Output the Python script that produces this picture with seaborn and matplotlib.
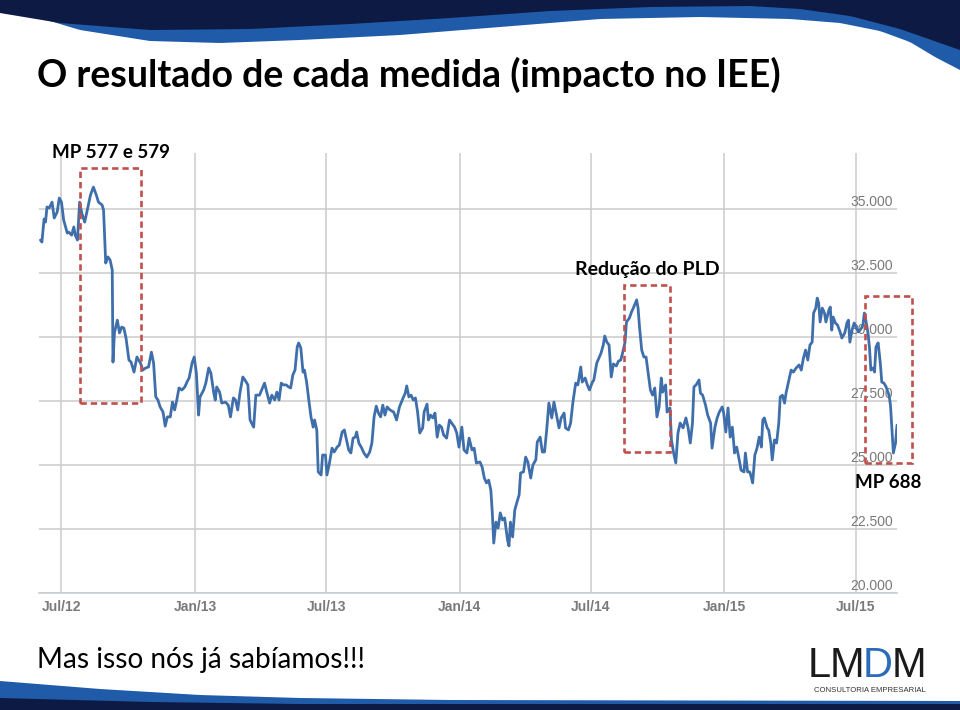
import numpy as np
import pandas as pd
import matplotlib
matplotlib.use("Agg")
import matplotlib.pyplot as plt
import matplotlib.dates as mdates
from matplotlib.patches import Polygon, Rectangle
import seaborn as sns

# ---------------- data ----------------
series_start = "2012-07-01"
day_offsets = [
    -29, -27, -24, -22, -20, -17, -13, -10, -6, -3, 0, 3, 8, 10, 14, 17, 19, 22, 25, 28,
    32, 35, 40, 44, 48, 51, 56, 58, 61, 64, 67, 70, 71, 73, 77, 80, 83, 86, 89, 93,
    96, 100, 104, 109, 112, 116, 120, 124, 127, 130, 133, 136, 140, 143, 146, 150, 153, 156, 159, 162,
    166, 170, 173, 176, 180, 183, 186, 189, 191, 196, 199, 203, 206, 210, 212, 214, 218, 221, 226, 230,
    233, 237,
    240, 243, 246, 250, 253, 257, 260, 265, 268, 273, 276, 280, 283, 287, 290, 294, 297, 300, 303, 306,
    310, 313, 316, 319, 322, 325, 327, 330, 333, 335, 338, 341, 344, 347, 349, 352, 354, 358, 360, 364,
    366, 369, 373, 376, 380, 383, 387, 390, 393, 396, 399, 402, 405, 407, 410, 414, 417, 421, 425, 428,
    431, 434, 437, 440, 443, 446, 449, 453, 458, 462, 466, 471, 474, 476, 479, 482, 485, 488, 491, 494,
    498, 500, 504, 506, 509, 512, 515, 518, 521, 524, 527, 531, 535, 538, 542, 545, 548, 552, 555, 559,
    562, 566, 569, 572, 577, 580, 583, 586, 589, 592, 594, 596, 599, 602, 605, 608, 611, 615, 617, 619,
    622, 625, 628, 631, 633, 637, 640, 643, 647, 650, 654, 656, 660, 663, 666, 669, 672, 676, 679, 683,
    686, 689, 693, 695, 699, 702, 705, 709, 712, 716, 718, 722, 725, 728, 732, 734, 738,
    741, 744, 747, 749, 752, 755, 758, 761, 765, 768, 771, 773, 777, 779, 783, 786, 789, 793, 795, 797,
    800, 803, 806, 809, 812, 815, 818, 821, 824, 827, 829, 833, 835, 839, 841, 844, 847, 850, 853, 857,
    861, 864, 867, 870, 872, 875, 879, 881, 884, 888, 891, 895, 897, 901, 904, 907, 911, 913, 916, 919,
    922, 925, 928, 931, 934, 937, 941, 943, 946, 949, 951, 953, 956, 959, 962, 965, 967, 969, 973, 975,
    978, 980, 983, 986, 989, 991, 994, 997, 999, 1003, 1006, 1009, 1013, 1017, 1020, 1023, 1026, 1029, 1032, 1035,
    1037, 1040, 1042, 1044, 1046, 1049, 1052, 1054, 1058, 1060, 1062, 1064, 1067, 1070, 1074, 1076, 1080, 1083, 1085, 1087,
    1090, 1093, 1096, 1099, 1103, 1105, 1107, 1109, 1112, 1114, 1116, 1119, 1121, 1123, 1126, 1129, 1131, 1134, 1137, 1141,
    1143, 1145, 1147, 1150, 1152,
]
iee_values = [
    33790, 33710, 34610, 34490, 35080, 35040, 35270, 34650, 34880, 35430, 35270, 34570, 34060, 34100, 33980, 34300, 33980, 33790, 35270, 34840,
    34490, 34880, 35550, 35860, 35550, 35270, 35160, 34960, 32890, 33130, 33010, 32620, 29020, 30160, 30660, 30160, 30390, 30350, 29960, 29100,
    29020, 28630, 29220, 28980, 28710, 28790, 28830, 29410, 28980, 27660, 27540, 27270, 27070, 26520, 26880, 26880, 27460, 27150, 27540, 28010,
    27930, 28050, 28240, 28400, 28980, 29220, 28590, 26950, 27660, 27930, 28200, 28790, 28590, 27810, 27540, 28050, 27850, 27420, 27460, 27340,
    26880, 27620,
    27540, 27150, 27810, 28440, 28320, 28130, 26760, 26480, 27730, 27730, 27930, 28200, 27850, 27420, 27730, 27540, 27850, 27540, 28200, 28130,
    28130, 28050, 28010, 28520, 28710, 29610, 29770, 29570, 28630, 28710, 28240, 27540, 26880, 26480, 26760, 26370, 24730, 24610, 25390, 25390,
    24610, 25000, 25660, 25510, 25700, 25780, 26290, 26370, 25980, 25590, 25470, 26050, 26090, 26290, 25860, 25660, 25470, 25310, 25510, 25860,
    26880, 27300, 27030, 26880, 27340, 26950, 27270, 27150, 27070, 26760, 27270, 27620, 27810, 28090, 27660, 27730, 27540, 27620, 27070, 26250,
    26450, 27070, 27380, 26760, 26950, 26840, 27030, 26090, 26560, 26480, 26170, 26050, 26760, 26640, 26480, 26250, 25700, 26480, 25590, 25470,
    26050, 25590, 25660, 25080, 25120, 24920, 24490, 24300, 24410, 24020, 23130, 21950, 22770, 22540, 23130, 22850, 22930, 22070, 21840, 22770,
    22190, 23240, 23550, 23830, 24690, 24730, 25310, 25120, 24490, 25000, 25200, 25900, 26090, 25510, 25510, 26370, 27420, 26840, 27460, 26880,
    26450, 26840, 27030, 26450, 26370, 26640, 27420, 28200, 28130, 28830, 28240, 28400, 28130, 27930, 28240, 28320, 28980,
    29180, 29380, 29690, 30040, 29800, 29690, 28440, 28950, 28870, 29060, 29100, 29300, 29800, 30590, 30740, 30980, 31170, 31450, 31130, 30390,
    29490, 29220, 29220, 28590, 27930, 27730, 28010, 26880, 27270, 28400, 27850, 28130, 27070, 27230, 25980, 25470, 25080, 26250, 26640, 26450,
    26840, 26450, 25860, 26640, 28050, 28130, 28320, 27810, 27730, 27340, 26950, 26640, 25660, 26480, 26840, 27070, 27270, 27030, 26290, 27230,
    26090, 26480, 25470, 25700, 25270, 24800, 24730, 25470, 24730, 24730, 24530, 24300, 25390, 25660, 26090, 25700, 26760, 26840, 26450, 26370,
    25860, 25200, 25980, 25860, 26640, 27660, 27730, 27420, 27810, 28320, 28710, 28630, 28790, 28910, 28710, 29180, 29490, 29100, 29690, 29800,
    30940, 31130, 31520, 31330, 30590, 31130, 30940, 30590, 31050, 31170, 30270, 30780, 30550, 30470, 30160, 29960, 30160, 30550, 30660, 29800,
    30270, 30550, 30350, 30200, 30350, 30470, 30940, 30660, 30160, 29610, 28710, 28790, 28630, 29610, 29770, 28980, 28240, 28200, 28050, 27730,
    27340, 26370, 25470, 25860, 26560,
]

x_tick_dates = ["2012-07-01", "2013-01-01", "2013-07-01", "2014-01-01",
                "2014-07-01", "2015-01-01", "2015-07-01"]
x_tick_labels = ["Jul/12", "Jan/13", "Jul/13", "Jan/14", "Jul/14", "Jan/15", "Jul/15"]
y_ticks = [20000, 22500, 25000, 27500, 30000, 32500, 35000]
y_tick_labels = ["20.000", "22.500", "25.000", "27.500", "30.000", "32.500", "35.000"]

# highlighted periods (dashed boxes)
box_starts = ["2012-07-26", "2014-08-15", "2015-07-14"]
box_ends = ["2012-10-18", "2014-10-18", "2015-09-17"]
box_lows = [27420, 25510, 25080]
box_highs = [36600, 32030, 31600]
box_labels = ["MP 577 e 579", "Redução do PLD", "MP 688"]

title = "O resultado de cada medida (impacto no IEE)"
footer = "Mas isso nós já sabíamos!!!"

# ---------------- styling ----------------
sns.set_theme(style="white")
plt.rcParams["font.family"] = ["Lato", "DejaVu Sans"]

W, H = 960, 710
NAVY = "#0c1a44"
BLUE = "#1f5ba8"
LINE = "#3f6fab"
RED = "#c0504d"
GRID = "#cbcbcb"

fig = plt.figure(figsize=(W / 100, H / 100), dpi=100)
fig.patch.set_facecolor("white")


def fp(x, y):
    return (x / W, 1 - y / H)


def band(upper, lower, color, z):
    xs = np.linspace(0, W, 200)
    up = upper(xs)
    lo = np.interp(xs, lower[0], lower[1])
    pts = [fp(x, y) for x, y in zip(xs, up)] + [fp(x, y) for x, y in zip(xs[::-1], lo[::-1])]
    fig.patches.append(Polygon(pts, closed=True, transform=fig.transFigure,
                               facecolor=color, edgecolor="none", zorder=z))


# top wave decoration
band(lambda xs: np.zeros_like(xs),
     ([0, 30, 80, 150, 220, 300, 400, 500, 600, 700, 790, 840, 880, 910, 935, 960],
      [11, 15, 30, 41, 43, 40, 35, 27, 19, 17, 19, 23, 31, 42, 57, 70]), BLUE, 0)
band(lambda xs: np.zeros_like(xs),
     ([0, 60, 150, 250, 350, 450, 550, 650, 750, 800, 850, 900, 960],
      [13, 23, 30, 29, 24, 18, 11, 7, 6, 9, 16, 29, 50]), NAVY, 1)
# bottom wave decoration
band(lambda xs: np.interp(xs, [0, 100, 200, 300, 450, 960], [681, 689, 695, 698, 700, 701]),
     ([0, 960], [711, 711]), BLUE, 0)
band(lambda xs: np.interp(xs, [0, 150, 300, 960], [698, 702, 704, 704]),
     ([0, 960], [711, 711]), NAVY, 1)

# ---------------- chart ----------------
ax = fig.add_axes([39 / W, 1 - 593 / H, (897 - 39) / W, (593 - 153) / H])
ax.set_facecolor("none")

t0 = pd.Timestamp(series_start)
dates = t0 + pd.to_timedelta(day_offsets, unit="D")
df = pd.DataFrame({"date": dates, "value": iee_values})
sns.lineplot(data=df, x="date", y="value", ax=ax, color=LINE, linewidth=2.0, zorder=3)

ax.set_xlim(t0 + pd.Timedelta(days=-31), t0 + pd.Timedelta(days=1152))
ax.set_ylim(20000, 37190)
ax.set_xlabel("")
ax.set_ylabel("")

ax.set_xticks(pd.to_datetime(x_tick_dates))
ax.set_xticklabels(x_tick_labels)
ax.set_yticks(y_ticks)
ax.set_yticklabels(y_tick_labels)
ax.yaxis.tick_right()
ax.tick_params(axis="x", length=0, pad=5, labelsize=10, labelcolor="#7a7a7a")
ax.tick_params(axis="y", length=0, pad=-3, labelsize=10, labelcolor="#7a7a7a")
for lab in ax.get_xticklabels():
    lab.set_fontweight("bold")
    lab.set_fontfamily(["Liberation Sans", "DejaVu Sans"])
for lab in ax.get_yticklabels():
    lab.set_ha("right")
    lab.set_va("bottom")
    lab.set_fontfamily(["Liberation Sans", "DejaVu Sans"])

ax.grid(True, color=GRID, linewidth=1.1)
ax.set_axisbelow(True)
for s in ["top", "left", "right"]:
    ax.spines[s].set_visible(False)
ax.spines["bottom"].set_color("#c6ccd6")
ax.spines["bottom"].set_linewidth(1.2)

for s, e, lo, hi in zip(box_starts, box_ends, box_lows, box_highs):
    x0 = mdates.date2num(pd.Timestamp(s))
    x1 = mdates.date2num(pd.Timestamp(e))
    ax.add_patch(Rectangle((x0, lo), x1 - x0, hi - lo, fill=False, edgecolor=RED,
                           linewidth=1.9, linestyle=(0, (2.4, 1.5)), clip_on=False, zorder=4))

# ---------------- texts ----------------
fig.text(*fp(37, 75), title, fontsize=27, fontweight="bold", color="black", va="center", ha="left")
label_pos = [(52, 152), (575, 270), (855, 482)]
label_sizes = [13.5, 14, 13.5]
for (lx, ly), txt, fs in zip(label_pos, box_labels, label_sizes):
    fig.text(*fp(lx, ly), txt, fontsize=fs, fontweight="bold", color="black", va="center", ha="left")
fig.text(*fp(37, 660), footer, fontsize=20.2, color="black", va="center", ha="left")

# logo
fig.canvas.draw()
renderer = fig.canvas.get_renderer()
logo_parts = ["L", "M", "D", "M"]
logo_colors = ["#1a1a1a", "#1a1a1a", "#2a6cb8", "#1a1a1a"]
xcur = 808
for part, col in zip(logo_parts, logo_colors):
    t = fig.text(*fp(xcur, 677), part, fontsize=30, color=col, va="baseline", ha="left",
                 family=["Liberation Sans", "DejaVu Sans"])
    bb = t.get_window_extent(renderer)
    xcur += bb.width - 1.5
fig.text(*fp(870, 690), "CONSULTORIA EMPRESARIAL", fontsize=5.6, color="#333333",
         va="center", ha="center", family=["Liberation Sans", "DejaVu Sans"])

fig.savefig("out.png", dpi=100, facecolor="white")
